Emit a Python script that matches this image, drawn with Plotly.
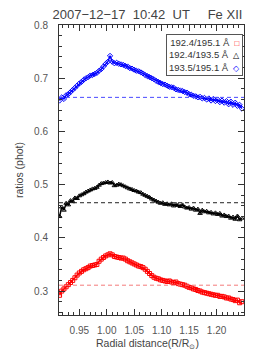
import plotly.graph_objects as go

radial = [0.914, 0.918, 0.922, 0.926, 0.930, 0.934, 0.938, 0.942, 0.946, 0.950,
          0.954, 0.958, 0.962, 0.966, 0.970, 0.974, 0.978, 0.982, 0.986, 0.990,
          0.994, 0.998, 1.002, 1.006, 1.010, 1.014, 1.018, 1.022, 1.026, 1.030,
          1.034, 1.038, 1.042, 1.046, 1.050, 1.054, 1.058, 1.062, 1.066, 1.070,
          1.074, 1.078, 1.082, 1.086, 1.090, 1.094, 1.098, 1.102, 1.106, 1.110,
          1.114, 1.118, 1.122, 1.126, 1.130, 1.134, 1.138, 1.142, 1.146, 1.150,
          1.154, 1.158, 1.162, 1.166, 1.170, 1.174, 1.178, 1.182, 1.186, 1.190,
          1.194, 1.198, 1.202, 1.206, 1.210, 1.214, 1.218, 1.222, 1.226, 1.230,
          1.234, 1.238, 1.242, 1.246]

ratio_1935_1951 = [0.658, 0.664, 0.661, 0.668, 0.670, 0.674, 0.678, 0.682, 0.686, 0.690,
                   0.693, 0.697, 0.700, 0.702, 0.705, 0.706, 0.708, 0.710, 0.714, 0.717,
                   0.722, 0.727, 0.731, 0.742, 0.731, 0.728, 0.729, 0.727, 0.726, 0.725,
                   0.723, 0.722, 0.719, 0.718, 0.716, 0.714, 0.713, 0.711, 0.709, 0.706,
                   0.704, 0.702, 0.700, 0.698, 0.695, 0.693, 0.691, 0.689, 0.688, 0.686,
                   0.684, 0.683, 0.682, 0.679, 0.678, 0.677, 0.676, 0.674, 0.673, 0.670,
                   0.669, 0.667, 0.666, 0.664, 0.665, 0.662, 0.663, 0.660, 0.662, 0.658,
                   0.661, 0.657, 0.660, 0.655, 0.658, 0.654, 0.657, 0.651, 0.656, 0.650,
                   0.654, 0.648, 0.650, 0.643]

ratio_1924_1935 = [0.440, 0.458, 0.452, 0.465, 0.462, 0.470, 0.468, 0.475, 0.474, 0.479,
                   0.481, 0.483, 0.486, 0.488, 0.490, 0.492, 0.493, 0.495, 0.499, 0.502,
                   0.503, 0.504, 0.505, 0.503, 0.504, 0.498, 0.499, 0.501, 0.500, 0.498,
                   0.496, 0.494, 0.492, 0.491, 0.489, 0.488, 0.486, 0.485, 0.482, 0.480,
                   0.478, 0.476, 0.473, 0.471, 0.469, 0.467, 0.465, 0.466, 0.463, 0.464,
                   0.462, 0.464, 0.460, 0.463, 0.461, 0.459, 0.462, 0.458, 0.456, 0.457,
                   0.454, 0.456, 0.452, 0.454, 0.446, 0.452, 0.449, 0.450, 0.447, 0.448,
                   0.445, 0.447, 0.444, 0.446, 0.441, 0.443, 0.440, 0.441, 0.437, 0.439,
                   0.435, 0.441, 0.434, 0.437]

ratio_1924_1951 = [0.292, 0.300, 0.304, 0.308, 0.312, 0.316, 0.320, 0.325, 0.330, 0.334,
                   0.337, 0.340, 0.342, 0.344, 0.347, 0.348, 0.349, 0.350, 0.356, 0.360,
                   0.363, 0.366, 0.368, 0.370, 0.368, 0.365, 0.364, 0.363, 0.362, 0.362,
                   0.360, 0.357, 0.355, 0.353, 0.351, 0.349, 0.347, 0.346, 0.344, 0.341,
                   0.337, 0.333, 0.329, 0.326, 0.324, 0.323, 0.321, 0.320, 0.319, 0.318,
                   0.319, 0.317, 0.316, 0.317, 0.314, 0.313, 0.312, 0.311, 0.309, 0.307,
                   0.306, 0.304, 0.303, 0.301, 0.300, 0.298, 0.297, 0.296, 0.295, 0.294,
                   0.293, 0.292, 0.292, 0.290, 0.290, 0.289, 0.287, 0.287, 0.285, 0.284,
                   0.282, 0.283, 0.278, 0.280]

# theoretical (reference) ratio levels drawn as dashed lines
ref_levels = [0.311, 0.466, 0.664]
series_names = ["192.4/195.1 Å", "192.4/193.5 Å", "193.5/195.1 Å"]
x_range = [0.913, 1.250]
y_range = [0.255, 0.800]

colors = ["#ff0000", "#000000", "#0000ff"]
dash_colors = ["#f47a7a", "#222222", "#4a4aff"]
symbols = ["square-open", "triangle-up-open", "diamond-open"]
series = [ratio_1924_1951, ratio_1924_1935, ratio_1935_1951]

fig = go.Figure()
for vals, col, sym in zip(series, colors, symbols):
    fig.add_trace(go.Scatter(
        x=radial, y=vals, mode="lines+markers",
        line=dict(color=col, width=1.5),
        marker=dict(symbol=sym, size=4, color=col, line=dict(color=col, width=1)),
        showlegend=False, hoverinfo="skip"))

for lvl, col in zip(ref_levels, dash_colors):
    fig.add_trace(go.Scatter(
        x=x_range, y=[lvl, lvl], mode="lines",
        line=dict(color=col, width=1, dash="4px,3px"),
        showlegend=False, hoverinfo="skip"))

legend_text = (
    f"{series_names[0]}  <span style='color:#ff0000;font-size:8px'>□</span><br>"
    f"{series_names[1]}  <span style='color:#000000;font-size:8px'>△</span><br>"
    f"{series_names[2]}  <span style='color:#0000ff;font-size:8px'>◇</span>"
)
fig.add_annotation(
    xref="paper", yref="paper", x=0.993, y=0.969,
    xanchor="right", yanchor="top", showarrow=False,
    text=legend_text, align="right",
    font=dict(family="Liberation Sans", size=9.5, color="#333333"),
    bordercolor="#555555", borderwidth=1, borderpad=2, bgcolor="white")

# x-axis title placed as annotation to sit close under the tick labels
fig.add_annotation(
    xref="paper", yref="paper", x=0.481, y=-0.101,
    xanchor="center", yanchor="middle", showarrow=False,
    text="Radial distance(R/R<sub>⊙</sub>)",
    font=dict(family="Liberation Sans", size=10.5, color="#444444"))

axis_common = dict(
    showline=True, linecolor="#333333", linewidth=1, mirror="allticks",
    ticks="inside", ticklen=6, tickcolor="#333333", tickwidth=1,
    showgrid=False, zeroline=False,
    tickfont=dict(family="Liberation Sans", size=10, color="#555555"),
)

# page body adds an 8px offset, so the figure is sized to fill the rest of the window
fig.update_layout(
    width=254, height=347,
    margin=dict(l=50, r=18, t=11, b=40),
    paper_bgcolor="white", plot_bgcolor="white",
    title=dict(text="2007−12−17  10:42  UT     Fe XII",
               x=0.549, xref="container", xanchor="center",
               y=0.9815, yref="container", yanchor="middle",
               font=dict(family="Liberation Sans", size=13, color="#444444")),
    xaxis=dict(range=x_range, tickvals=[0.95, 1.00, 1.05, 1.10, 1.15, 1.20],
               ticktext=["0.95", "1.00", "1.05", "1.10", "1.15", "1.20"],
               minor=dict(ticks="inside", dtick=0.01, tick0=0.9, ticklen=3,
                          tickcolor="#333333"),
               ticklabelstandoff=6,
               **axis_common),
    yaxis=dict(range=y_range, tickvals=[0.3, 0.4, 0.5, 0.6, 0.7, 0.8],
               ticktext=["0.3", "0.4", "0.5", "0.6", "0.7", "0.8"],
               minor=dict(ticks="inside", dtick=0.02, tick0=0.2, ticklen=3,
                          tickcolor="#333333"),
               ticklabelstandoff=8,
               title=dict(text="ratios (phot)", standoff=8,
                          font=dict(family="Liberation Sans", size=10.5, color="#444444")),
               **axis_common),
)

fig.write_html("out.html")
